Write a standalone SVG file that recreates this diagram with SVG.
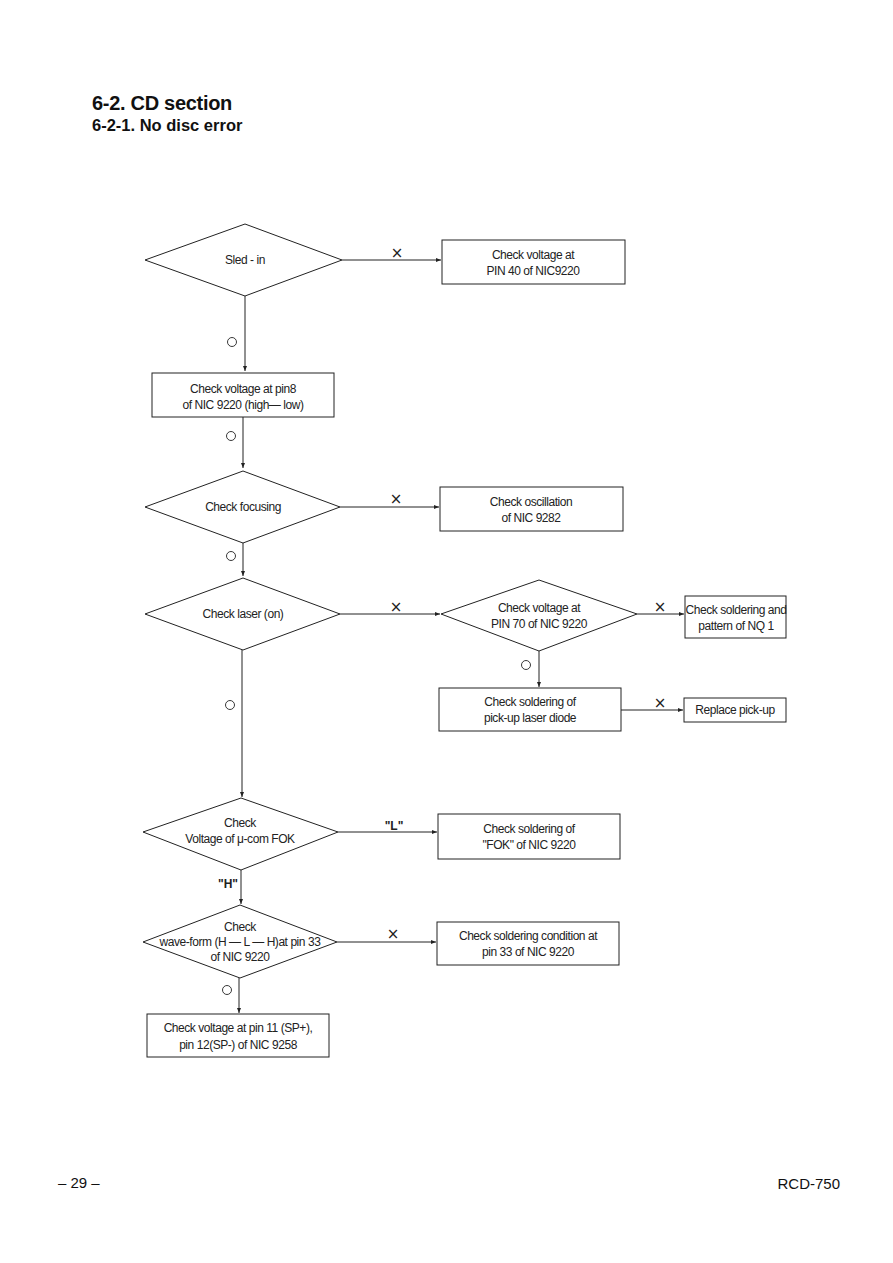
<svg xmlns="http://www.w3.org/2000/svg" width="893" height="1263" viewBox="0 0 893 1263">
<style>
.n{fill:none;stroke:#222;stroke-width:1}
.t{font-family:"Liberation Sans",Arial,sans-serif;font-size:12px;letter-spacing:-0.45px;fill:#222;text-anchor:middle}
.c{fill:none;stroke:#222;stroke-width:1}
.lb{font-family:"DejaVu Sans",sans-serif;font-size:15px;fill:#222;text-anchor:middle}
.bl{font-family:"Liberation Sans",Arial,sans-serif;font-size:12px;font-weight:bold;fill:#222;text-anchor:middle}
.o{fill:none;stroke:#222;stroke-width:0.9}
</style>
<defs>
<marker id="a" viewBox="0 0 10 10" refX="10" refY="5" markerWidth="6" markerHeight="5" orient="auto" markerUnits="userSpaceOnUse"><path d="M0,1 L10,5 L0,9 z" fill="#222"/></marker>
</defs>
<rect width="893" height="1263" fill="#fff"/>
<text x="92" y="110" font-family="Liberation Sans,Arial,sans-serif" font-size="20" font-weight="bold" letter-spacing="-0.3" fill="#111">6-2. CD section</text>
<text x="92" y="131" font-family="Liberation Sans,Arial,sans-serif" font-size="16.5" font-weight="bold" fill="#111">6-2-1. No disc error</text>

<g id="connectors">
<line class="c" x1="342" y1="260" x2="441" y2="260" marker-end="url(#a)"/>
<line class="c" x1="245" y1="296" x2="245" y2="371" marker-end="url(#a)"/>
<line class="c" x1="243" y1="417" x2="243" y2="468" marker-end="url(#a)"/>
<line class="c" x1="340" y1="507" x2="439" y2="507" marker-end="url(#a)"/>
<line class="c" x1="243" y1="543" x2="243" y2="576" marker-end="url(#a)"/>
<line class="c" x1="340" y1="614" x2="440" y2="614" marker-end="url(#a)"/>
<line class="c" x1="637" y1="614" x2="684" y2="614" marker-end="url(#a)"/>
<line class="c" x1="539" y1="651" x2="539" y2="687" marker-end="url(#a)"/>
<line class="c" x1="621" y1="710" x2="683" y2="710" marker-end="url(#a)"/>
<line class="c" x1="242" y1="650" x2="242" y2="797" marker-end="url(#a)"/>
<line class="c" x1="338" y1="832" x2="437" y2="832" marker-end="url(#a)"/>
<line class="c" x1="241" y1="870" x2="241" y2="904" marker-end="url(#a)"/>
<line class="c" x1="337" y1="942" x2="436" y2="942" marker-end="url(#a)"/>
<line class="c" x1="239" y1="978" x2="239" y2="1013" marker-end="url(#a)"/>
<g class="lb">
<text x="397" y="258">×</text>
<text x="396" y="504">×</text>
<text x="396" y="612">×</text>
<text x="660" y="612">×</text>
<text x="660" y="708">×</text>
<text x="393" y="939">×</text>
</g>
<circle class="o" cx="232" cy="342" r="4.5"/>
<circle class="o" cx="231" cy="436" r="4.5"/>
<circle class="o" cx="231" cy="556" r="4.5"/>
<circle class="o" cx="526" cy="665" r="4.5"/>
<circle class="o" cx="230" cy="705" r="4.5"/>
<circle class="o" cx="227" cy="990" r="4.5"/>
<text class="bl" x="394" y="830">"L"</text>
<text class="bl" x="228" y="888">"H"</text>
</g>

<g id="n1"><polygon class="n" points="145,260 245,224 342,260 245,296"/><text class="t" x="245" y="264">Sled - in</text></g>
<g id="n2"><rect class="n" x="442" y="240" width="183" height="44"/><text class="t" x="533" y="259">Check voltage at</text><text class="t" x="533" y="275">PIN 40 of NIC9220</text></g>
<g id="n3"><rect class="n" x="152" y="373" width="182" height="44"/><text class="t" x="243" y="393">Check voltage at pin8</text><text class="t" x="243" y="409">of NIC 9220 (high— low)</text></g>
<g id="n4"><polygon class="n" points="145,507 243,471 340,507 243,543"/><text class="t" x="243" y="511">Check focusing</text></g>
<g id="n5"><rect class="n" x="440" y="487" width="183" height="44"/><text class="t" x="531" y="506">Check oscillation</text><text class="t" x="531" y="522">of NIC 9282</text></g>
<g id="n6"><polygon class="n" points="145,614 243,578 340,614 243,650"/><text class="t" x="243" y="618">Check laser (on)</text></g>
<g id="n7"><polygon class="n" points="441,614 539,580 637,614 539,651"/><text class="t" x="539" y="612">Check voltage at</text><text class="t" x="539" y="628">PIN 70 of NIC 9220</text></g>
<g id="n8"><rect class="n" x="685" y="596" width="101" height="42"/><text class="t" x="736" y="614">Check soldering and</text><text class="t" x="736" y="630">pattern of NQ 1</text></g>
<g id="n9"><rect class="n" x="439" y="688" width="182" height="43"/><text class="t" x="530" y="706">Check soldering of</text><text class="t" x="530" y="722">pick-up laser diode</text></g>
<g id="n10"><rect class="n" x="684" y="698" width="102" height="24"/><text class="t" x="735" y="714">Replace pick-up</text></g>
<g id="n11"><polygon class="n" points="143,832 241,798 338,832 241,870"/><text class="t" x="240" y="827">Check</text><text class="t" x="240" y="843">Voltage of μ-com FOK</text></g>
<g id="n12"><rect class="n" x="438" y="814" width="182" height="45"/><text class="t" x="529" y="833">Check soldering of</text><text class="t" x="529" y="849">"FOK" of NIC 9220</text></g>
<g id="n13"><polygon class="n" points="143,942 240,905 337,942 240,978"/><text class="t" x="240" y="931">Check</text><text class="t" x="240" y="946">wave-form (H — L — H)at pin 33</text><text class="t" x="240" y="961">of NIC 9220</text></g>
<g id="n14"><rect class="n" x="437" y="922" width="182" height="43"/><text class="t" x="528" y="940">Check soldering condition at</text><text class="t" x="528" y="956">pin 33 of NIC 9220</text></g>
<g id="n15"><rect class="n" x="147" y="1014" width="182" height="43"/><text class="t" x="238" y="1032">Check voltage at pin 11 (SP+),</text><text class="t" x="238" y="1049">pin 12(SP-) of NIC 9258</text></g>

<text x="58" y="1188" font-family="Liberation Sans,Arial,sans-serif" font-size="15" fill="#111">– 29 –</text>
<text x="840" y="1189" font-family="Liberation Sans,Arial,sans-serif" font-size="15" fill="#111" text-anchor="end">RCD-750</text>
</svg>
